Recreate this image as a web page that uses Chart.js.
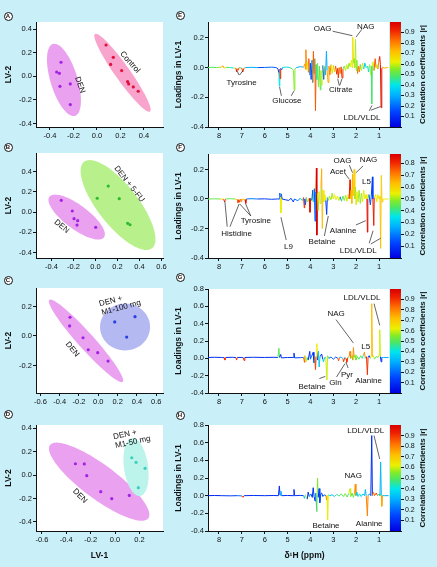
<!DOCTYPE html>
<html>
<head>
<meta charset="utf-8">
<script src="https://cdn.jsdelivr.net/npm/chart.js@4.4.1/dist/chart.umd.min.js"></script>
<style>
  html, body { margin: 0; padding: 0; }
  body { width: 437px; height: 567px; background: #c9eff8; position: relative; overflow: hidden; }
  canvas { position: absolute; }
  .tag { position: absolute; width: 7px; height: 7px; margin: -4.5px 0 0 -4.5px; border: 1px solid #111; border-radius: 50%;
         background: #fff; color: #111; font: bold 6px "Liberation Sans", Arial, sans-serif; line-height: 7px; text-align: center; }
</style>
</head>
<body>
<canvas id="cA" width="175" height="145" style="left:0;top:0"></canvas>
<canvas id="cB" width="175" height="145" style="left:0;top:130px"></canvas>
<canvas id="cC" width="175" height="140" style="left:0;top:270px"></canvas>
<canvas id="cD" width="175" height="157" style="left:0;top:410px"></canvas>
<canvas id="cE" width="272" height="145" style="left:165px;top:0"></canvas>
<canvas id="cF" width="272" height="145" style="left:165px;top:130px"></canvas>
<canvas id="cG" width="272" height="140" style="left:165px;top:270px"></canvas>
<canvas id="cH" width="272" height="157" style="left:165px;top:410px"></canvas>
<div class="tag" style="left:8px;top:16px">A</div>
<div class="tag" style="left:8px;top:147px">B</div>
<div class="tag" style="left:8px;top:280px">C</div>
<div class="tag" style="left:8px;top:414px">D</div>
<div class="tag" style="left:180px;top:15px">E</div>
<div class="tag" style="left:180px;top:147px">F</div>
<div class="tag" style="left:180px;top:277px">G</div>
<div class="tag" style="left:180px;top:415px">H</div>
<script>
// ---------- PLS-DA scores (LV-1, LV-2) ----------
const denA_lv1 = [-0.306, -0.343, -0.320, -0.315, -0.227, -0.227];
const denA_lv2 = [0.119, 0.036, 0.025, -0.085, -0.065, -0.240];
const ctlA_lv1 = [0.077, 0.139, 0.116, 0.210, 0.261, 0.270, 0.309, 0.351];
const ctlA_lv2 = [0.265, 0.161, 0.100, 0.048, -0.046, -0.065, -0.090, -0.127];

const denB_lv1 = [-0.311, -0.211, -0.195, -0.162, -0.168, 0.002];
const denB_lv2 = [0.116, 0.010, -0.066, -0.086, -0.129, -0.151];
const fuB_lv1 = [0.116, 0.016, 0.216, 0.293, 0.314];
const fuB_lv2 = [0.257, 0.136, 0.132, -0.112, -0.126];

const denC_lv1 = [-0.293, -0.297, -0.158, -0.104, -0.006, 0.101];
const denC_lv2 = [0.127, 0.068, -0.012, -0.093, -0.113, -0.170];
const m100C_lv1 = [0.170, 0.380, 0.294];
const m100C_lv2 = [0.095, 0.131, -0.007];

const denD_lv1 = [-0.325, -0.252, -0.232, -0.117, -0.027, 0.117];
const denD_lv2 = [0.096, 0.094, -0.006, -0.142, -0.202, -0.174];
const m50D_lv1 = [0.137, 0.172, 0.246, 0.191];
const m50D_lv2 = [0.147, 0.108, 0.057, -0.108];

// confidence regions: centre x, centre y, semi-axis 1 (dx, dy), semi-axis 2 (dx, dy)
const ellDenA = [-0.281, -0.031, -0.094, 0.305, 0.110, 0.033];
const ellCtlA = [0.217, 0.030, -0.234, 0.329, 0.052, 0.036];
const ellDenB = [-0.171, -0.050, 0.248, -0.201, 0.065, 0.095];
const ellFuB = [0.205, 0.069, 0.309, -0.428, 0.143, 0.123];
const ellDenC = [-0.127, -0.033, 0.380, -0.277, 0.061, 0.037];
const ellM100C = [0.277, 0.061, 0.259, 0.000, 0.000, 0.159];
const ellDenD = [-0.130, -0.057, 0.403, -0.312, 0.084, 0.116];
const ellM50D = [0.172, 0.068, 0.033, -0.247, 0.098, 0.014];

// ---------- LV-1 loadings: [ppm, loading, |r|] ----------
const loadE = [
  [8.48,0.000,0.45],[8.30,0.002,0.50],[8.10,0.000,0.45],[7.90,0.003,0.55],[7.82,0.012,0.75],[7.78,-0.004,0.65],
  [7.70,0.002,0.50],[7.50,0.000,0.45],[7.35,-0.003,0.40],[7.26,-0.004,0.60],[7.23,-0.028,0.92],[7.20,-0.008,0.85],
  [7.16,-0.018,0.85],[7.12,0.000,0.60],[7.00,-0.004,0.50],[6.96,-0.030,0.90],[6.92,-0.006,0.80],[6.85,0.000,0.45],
  [6.60,0.002,0.30],[6.30,0.000,0.20],[6.00,0.001,0.15],[5.70,0.003,0.20],[5.50,0.000,0.25],[5.42,-0.008,0.15],
  [5.38,-0.035,0.10],[5.36,-0.125,0.40],[5.34,-0.010,0.30],[5.32,-0.075,0.90],[5.30,-0.005,0.30],[5.26,-0.015,0.20],
  [5.22,0.000,0.30],[5.05,0.004,0.40],[4.90,0.000,0.35],[4.80,-0.008,0.50],[4.74,-0.020,0.55],[4.71,-0.150,0.55],
  [4.68,-0.012,0.50],[4.62,0.000,0.35],[4.45,0.006,0.30],[4.30,0.003,0.35],[4.25,0.025,0.75],[4.22,-0.010,0.40],
  [4.20,0.120,0.80],[4.17,-0.015,0.50],[4.14,0.040,0.65],[4.10,-0.030,0.20],[4.07,0.060,0.85],[4.03,-0.050,0.30],
  [4.00,0.030,0.60],[3.97,-0.080,0.15],[3.93,0.050,0.55],[3.90,-0.100,0.35],[3.87,0.110,0.85],[3.84,-0.040,0.15],
  [3.81,0.060,0.45],[3.78,-0.290,0.85],[3.75,0.020,0.55],[3.72,-0.080,0.45],[3.69,0.030,0.60],[3.65,-0.130,0.55],
  [3.61,0.010,0.50],[3.57,-0.150,0.50],[3.54,-0.020,0.45],[3.50,-0.120,0.60],[3.46,0.015,0.30],[3.42,-0.080,0.20],
  [3.38,0.010,0.50],[3.34,-0.050,0.60],[3.30,0.110,0.30],[3.27,-0.020,0.70],[3.23,-0.100,0.75],[3.19,0.010,0.40],
  [3.15,-0.050,0.80],[3.10,0.020,0.60],[3.05,-0.040,0.60],[3.00,0.015,0.40],[2.95,-0.030,0.70],[2.90,0.010,0.50],
  [2.85,-0.045,0.90],[2.81,-0.005,0.60],[2.78,-0.070,0.90],[2.74,0.000,0.50],[2.70,-0.040,0.80],[2.66,0.005,0.55],
  [2.62,-0.070,0.90],[2.58,-0.010,0.60],[2.52,0.010,0.50],[2.46,-0.020,0.55],[2.41,0.020,0.60],[2.36,-0.010,0.40],
  [2.31,0.030,0.55],[2.26,0.005,0.60],[2.21,0.050,0.62],[2.18,0.000,0.45],[2.15,0.205,0.65],[2.12,0.030,0.60],
  [2.09,0.060,0.55],[2.06,0.000,0.45],[2.03,0.190,0.58],[2.00,-0.020,0.20],[1.97,0.050,0.55],[1.94,-0.040,0.85],
  [1.90,0.010,0.40],[1.86,-0.030,0.80],[1.82,0.020,0.60],[1.77,-0.020,0.50],[1.72,0.030,0.60],[1.67,-0.010,0.20],
  [1.62,0.030,0.35],[1.56,0.000,0.30],[1.50,0.010,0.50],[1.46,-0.030,0.40],[1.41,0.020,0.35],[1.37,-0.050,0.60],
  [1.34,0.010,0.50],[1.32,-0.245,0.48],[1.30,0.010,0.45],[1.26,0.040,0.60],[1.22,-0.020,0.30],[1.17,0.060,0.85],
  [1.13,0.000,0.50],[1.09,0.020,0.60],[1.05,-0.010,0.30],[1.01,0.040,0.80],[0.97,0.075,0.92],[0.94,0.020,0.75],
  [0.91,-0.270,0.96],[0.88,-0.005,0.90],[0.84,0.000,0.80],[0.75,-0.003,0.75],[0.65,0.000,0.70],[0.58,0.000,0.65]
];
const loadF = [
  [8.48,0.000,0.40],[8.20,0.001,0.45],[7.95,0.000,0.40],[7.80,-0.002,0.60],[7.75,-0.020,0.80],[7.72,0.000,0.50],
  [7.50,0.002,0.45],[7.30,0.000,0.50],[7.20,-0.005,0.60],[7.17,-0.025,0.75],[7.14,-0.005,0.60],[7.10,-0.022,0.80],
  [7.06,0.000,0.55],[7.03,-0.018,0.70],[7.00,0.000,0.50],[6.86,-0.005,0.60],[6.83,-0.030,0.85],[6.80,0.000,0.40],
  [6.60,0.002,0.20],[6.30,0.000,0.10],[6.00,0.001,0.10],[5.70,-0.002,0.12],[5.45,0.000,0.15],[5.36,0.000,0.10],
  [5.34,0.040,0.15],[5.31,0.010,0.10],[5.29,-0.095,0.55],[5.27,0.035,0.15],[5.24,0.000,0.10],[5.10,-0.005,0.10],
  [4.95,-0.010,0.10],[4.85,0.005,0.10],[4.75,-0.020,0.12],[4.70,0.000,0.10],[4.55,-0.012,0.20],[4.45,0.005,0.25],
  [4.35,-0.010,0.40],[4.30,0.010,0.30],[4.27,-0.060,0.80],[4.25,0.000,0.30],[4.22,-0.040,0.15],[4.18,0.010,0.40],
  [4.12,-0.020,0.50],[4.05,0.005,0.40],[4.02,-0.090,0.85],[3.99,0.005,0.30],[3.94,-0.010,0.30],[3.90,0.060,0.15],
  [3.87,-0.020,0.10],[3.83,0.070,0.40],[3.80,-0.150,0.15],[3.77,0.050,0.25],[3.74,0.210,0.75],[3.72,-0.245,0.88],
  [3.70,0.040,0.60],[3.66,-0.080,0.50],[3.62,0.050,0.55],[3.58,-0.030,0.45],[3.54,0.080,0.50],[3.51,0.205,0.65],
  [3.48,-0.200,0.62],[3.45,0.060,0.55],[3.41,-0.020,0.40],[3.37,0.030,0.55],[3.33,-0.010,0.40],[3.29,-0.105,0.12],
  [3.26,0.010,0.30],[3.22,-0.010,0.40],[3.17,0.020,0.50],[3.10,-0.005,0.40],[3.05,0.040,0.50],[3.00,0.000,0.35],
  [2.95,0.030,0.55],[2.88,-0.005,0.30],[2.82,0.020,0.55],[2.76,-0.010,0.35],[2.70,0.015,0.50],[2.64,-0.015,0.20],
  [2.58,0.020,0.45],[2.52,-0.010,0.15],[2.46,0.025,0.50],[2.40,-0.015,0.15],[2.35,0.030,0.55],[2.31,0.000,0.30],
  [2.27,0.130,0.82],[2.25,0.000,0.60],[2.22,0.060,0.60],[2.19,-0.030,0.40],[2.16,0.170,0.65],[2.13,0.020,0.55],
  [2.09,0.200,0.60],[2.06,0.000,0.45],[2.03,0.080,0.50],[2.00,-0.040,0.30],[1.96,0.050,0.55],[1.92,-0.020,0.40],
  [1.87,0.060,0.50],[1.82,-0.030,0.15],[1.77,0.040,0.50],[1.72,-0.020,0.35],[1.67,0.060,0.55],[1.62,0.000,0.40],
  [1.57,0.030,0.55],[1.53,0.000,0.60],[1.51,-0.225,0.85],[1.49,0.000,0.60],[1.44,0.030,0.45],[1.38,-0.040,0.15],
  [1.34,0.020,0.30],[1.29,0.150,0.12],[1.27,0.000,0.20],[1.23,-0.180,0.82],[1.21,0.010,0.50],[1.15,0.030,0.55],
  [1.10,-0.020,0.40],[1.05,0.030,0.55],[1.00,0.000,0.40],[0.96,0.020,0.55],[0.93,-0.335,0.62],[0.90,0.160,0.60],
  [0.87,-0.020,0.60],[0.83,0.000,0.55],[0.70,0.000,0.55],[0.58,0.000,0.55]
];
const loadG = [
  [8.48,0.010,0.12],[8.20,0.012,0.10],[7.90,0.010,0.12],[7.78,0.008,0.15],[7.74,-0.020,0.90],[7.70,0.010,0.15],
  [7.40,0.012,0.10],[7.26,0.008,0.20],[7.23,-0.020,0.90],[7.20,0.010,0.15],[7.00,0.010,0.10],[6.93,0.005,0.30],
  [6.90,-0.025,0.92],[6.87,0.010,0.15],[6.50,0.012,0.10],[6.00,0.010,0.12],[5.60,0.012,0.10],[5.42,0.010,0.15],
  [5.38,0.115,0.50],[5.35,0.010,0.15],[5.30,0.045,0.10],[5.27,0.005,0.15],[5.00,0.010,0.12],[4.75,0.010,0.12],
  [4.72,0.060,0.10],[4.69,0.005,0.12],[4.45,0.008,0.15],[4.30,0.010,0.20],[4.26,-0.045,0.85],[4.24,0.030,0.15],
  [4.19,-0.040,0.60],[4.15,0.010,0.20],[4.10,-0.020,0.35],[4.03,0.080,0.10],[4.00,-0.010,0.20],[3.94,0.030,0.25],
  [3.88,0.070,0.10],[3.85,-0.050,0.35],[3.81,0.020,0.20],[3.78,-0.130,0.88],[3.75,0.020,0.30],[3.72,0.170,0.62],
  [3.69,-0.020,0.30],[3.65,0.080,0.10],[3.62,-0.100,0.35],[3.58,0.020,0.20],[3.51,0.050,0.10],[3.46,-0.010,0.20],
  [3.43,-0.040,0.35],[3.38,0.010,0.20],[3.33,0.010,0.30],[3.28,-0.250,0.60],[3.25,0.030,0.50],[3.20,0.000,0.30],
  [3.10,0.015,0.20],[3.00,-0.010,0.40],[2.90,0.015,0.15],[2.80,0.000,0.30],[2.77,-0.030,0.85],[2.73,0.010,0.20],
  [2.65,0.015,0.30],[2.58,-0.005,0.40],[2.55,-0.040,0.88],[2.50,0.010,0.30],[2.44,-0.005,0.50],[2.41,-0.045,0.90],
  [2.37,0.010,0.30],[2.31,0.020,0.55],[2.27,0.080,0.80],[2.24,0.000,0.30],[2.18,0.030,0.55],[2.15,-0.020,0.40],
  [2.12,0.125,0.78],[2.09,0.010,0.50],[2.05,0.040,0.55],[2.01,-0.020,0.40],[1.95,0.020,0.50],[1.88,-0.010,0.30],
  [1.80,0.030,0.50],[1.74,0.000,0.30],[1.68,0.040,0.45],[1.64,0.070,0.78],[1.60,0.000,0.40],[1.55,0.020,0.35],
  [1.51,-0.190,0.90],[1.48,0.010,0.30],[1.43,0.030,0.10],[1.38,0.000,0.25],[1.35,0.030,0.60],[1.32,0.630,0.72],
  [1.29,0.020,0.65],[1.25,0.030,0.60],[1.20,-0.010,0.40],[1.12,0.020,0.50],[1.04,0.010,0.40],[1.00,0.040,0.60],
  [0.97,0.330,0.60],[0.94,0.020,0.45],[0.91,-0.040,0.10],[0.88,0.010,0.30],[0.80,0.010,0.30],[0.58,0.010,0.30]
];
const loadH = [
  [8.48,0.000,0.10],[8.20,0.002,0.08],[7.90,0.000,0.10],[7.50,-0.002,0.12],[7.20,0.000,0.15],[7.00,-0.003,0.20],
  [6.95,-0.018,0.90],[6.90,0.000,0.15],[6.50,0.002,0.10],[6.00,0.000,0.08],[5.60,0.002,0.10],[5.40,0.000,0.12],
  [5.36,0.110,0.10],[5.33,0.005,0.15],[5.29,0.050,0.30],[5.26,0.000,0.15],[5.00,0.002,0.10],[4.76,0.000,0.10],
  [4.72,0.070,0.10],[4.69,0.000,0.12],[4.45,0.003,0.12],[4.30,0.000,0.20],[4.26,-0.030,0.35],[4.22,0.010,0.20],
  [4.14,-0.040,0.62],[4.10,0.040,0.10],[4.05,-0.010,0.20],[3.98,0.020,0.30],[3.92,-0.020,0.15],[3.88,0.090,0.10],
  [3.84,-0.010,0.20],[3.80,-0.060,0.10],[3.77,0.030,0.20],[3.72,-0.180,0.30],[3.69,0.200,0.55],[3.66,-0.020,0.25],
  [3.62,0.080,0.10],[3.59,-0.080,0.15],[3.55,0.020,0.20],[3.51,0.030,0.10],[3.46,-0.010,0.15],[3.40,0.010,0.20],
  [3.32,0.000,0.40],[3.29,-0.050,0.82],[3.27,0.000,0.50],[3.25,-0.275,0.62],[3.22,0.010,0.40],[3.15,0.000,0.20],
  [3.05,0.010,0.35],[2.95,-0.010,0.30],[2.85,0.015,0.45],[2.75,-0.005,0.30],[2.65,0.020,0.50],[2.55,-0.010,0.35],
  [2.48,0.025,0.55],[2.40,-0.015,0.40],[2.33,0.020,0.45],[2.27,0.080,0.60],[2.24,-0.010,0.40],[2.18,0.030,0.50],
  [2.12,-0.020,0.45],[2.07,0.030,0.55],[2.04,0.130,0.78],[2.01,0.000,0.40],[1.97,0.040,0.35],[1.92,-0.010,0.30],
  [1.85,0.020,0.40],[1.78,-0.010,0.30],[1.70,0.020,0.35],[1.63,0.000,0.30],[1.60,0.070,0.32],[1.56,0.000,0.30],
  [1.51,-0.230,0.80],[1.48,0.000,0.30],[1.42,0.020,0.25],[1.36,0.000,0.20],[1.32,0.680,0.10],[1.29,0.000,0.20],
  [1.24,0.040,0.80],[1.20,0.000,0.50],[1.12,0.030,0.88],[1.07,0.000,0.40],[1.00,0.020,0.50],[0.96,0.000,0.30],
  [0.93,0.380,0.32],[0.90,0.000,0.50],[0.88,-0.120,0.75],[0.85,0.000,0.35],[0.75,0.000,0.30],[0.58,0.000,0.30]
];

// ---------- tick labels ----------
const ppmTicks = [8, 7, 6, 5, 4, 3, 2, 1];
const lvTicks4 = [-0.4, -0.2, 0, 0.2, 0.4];
const lvTicksB = [-0.4, -0.2, 0, 0.2, 0.4, 0.6];
const lvTicks6 = [-0.6, -0.4, -0.2, 0, 0.2, 0.4, 0.6];
const lvTicksD = [-0.6, -0.4, -0.2, 0, 0.2];
const lvTicksC = [-0.2, 0, 0.2];
const loadTicksSmall = [-0.4, -0.2, 0, 0.2];
const loadTicksLarge = [-0.4, -0.2, 0, 0.2, 0.4, 0.6, 0.8];
const rTicks9 = [0.1, 0.2, 0.3, 0.4, 0.5, 0.6, 0.7, 0.8, 0.9];
const rTicks8 = [0.1, 0.2, 0.3, 0.4, 0.5, 0.6, 0.7, 0.8];

// ---------- annotations of the loadings (ppm, loading) ----------
const notesE = [['Tyrosine', 7.01, -0.102], ['Glucose', 5.03, -0.225], ['Citrate', 2.67, -0.151],
  ['OAG', 3.47, 0.258], ['NAG', 1.58, 0.275], ['LDL/VLDL', 1.75, -0.335]];
const leadersE = [[7.12, -0.05, 7.22, -0.02], [7.10, -0.05, 6.95, -0.02], [5.27, -0.19, 5.35, -0.13],
  [4.84, -0.19, 4.71, -0.155], [2.74, -0.12, 2.81, -0.075], [2.72, -0.12, 2.62, -0.075],
  [3.03, 0.245, 2.17, 0.215], [1.75, 0.258, 2.01, 0.205], [1.43, -0.291, 1.31, -0.255], [1.36, -0.287, 0.93, -0.262]];
const notesF = [['Histidine', 7.23, -0.237], ['Tyrosine', 6.39, -0.147], ['L9', 4.96, -0.323],
  ['Betaine', 3.49, -0.289], ['Alanine', 2.57, -0.215], ['LDL/VLDL', 1.91, -0.35], ['Acet', 2.80, 0.185],
  ['OAG', 2.60, 0.26], ['NAG', 1.46, 0.264], ['L5', 1.55, 0.117]];
const leadersF = [[7.64, -0.188, 7.74, -0.018], [7.52, -0.188, 7.12, -0.034], [6.61, -0.115, 7.09, -0.034],
  [6.61, -0.115, 6.83, -0.034], [5.06, -0.278, 5.29, -0.124], [3.39, -0.251, 3.22, -0.115],
  [2.01, -0.176, 1.58, -0.147], [1.43, -0.30, 1.26, -0.215], [1.36, -0.305, 0.93, -0.266],
  [2.48, 0.17, 2.30, 0.134], [2.30, 0.23, 2.16, 0.178], [1.70, 0.224, 2.01, 0.178]];
const notesG = [['LDL/VLDL', 1.75, 0.70], ['NAG', 2.88, 0.515], ['L5', 1.58, 0.138], ['Betaine', 3.93, -0.331],
  ['Gln', 2.91, -0.285], ['Pyr', 2.40, -0.185], ['Alanine', 1.46, -0.262]];
const leadersG = [[1.22, 0.631, 0.97, 0.381], [2.88, 0.446, 2.12, 0.176], [3.61, -0.234, 3.35, -0.208],
  [2.86, -0.216, 2.49, -0.061], [2.35, -0.112, 2.45, -0.043]];
const notesH = [['LDL/VLDL', 1.58, 0.74], ['NAG', 2.13, 0.226], ['Betaine', 3.32, -0.34], ['Alanine', 1.43, -0.317]];
const leadersH = [[1.22, 0.68, 0.97, 0.415]];

// ---------- shared look ----------
const FAMILY = '"Liberation Sans", Arial, sans-serif';
Chart.defaults.font.family = FAMILY;
Chart.defaults.color = '#111';
Chart.defaults.animation = false;

const jetStops = [
  [0.00, [0, 0, 225]], [0.15, [0, 70, 255]], [0.30, [0, 175, 255]], [0.40, [0, 230, 235]],
  [0.48, [70, 230, 110]], [0.55, [130, 235, 40]], [0.62, [235, 240, 0]], [0.72, [255, 190, 0]],
  [0.82, [255, 115, 0]], [0.92, [240, 35, 0]], [1.00, [215, 0, 0]]
];
function jet(v) {
  v = Math.max(0, Math.min(1, v));
  for (let i = 1; i < jetStops.length; i++) {
    const [p0, c0] = jetStops[i - 1], [p1, c1] = jetStops[i];
    if (v <= p1) {
      const t = (v - p0) / (p1 - p0);
      return 'rgb(' + c0.map((c, k) => Math.round(c + (c1[k] - c) * t)).join(',') + ')';
    }
  }
}

function axis(o) {
  return {
    type: 'linear', min: o.min, max: o.max, reverse: !!o.reverse,
    afterBuildTicks: s => { s.ticks = o.ticks.map(v => ({ value: v })); },
    afterFit: o.fit,
    ticks: { callback: o.fmt, font: { size: 7.5 }, color: '#111', padding: 1, autoSkip: false, maxRotation: 0 },
    grid: { drawOnChartArea: false, tickLength: 3, color: '#111', tickColor: '#111' },
    border: { display: true, color: '#111', width: 1 },
    title: o.title
      ? { display: true, text: o.title, font: { size: 8.5, weight: 'bold' }, color: '#111', padding: o.titlePad }
      : { display: false }
  };
}

const whiteArea = cut => ({
  id: 'whiteArea',
  beforeDraw(chart) {
    const a = chart.chartArea, ctx = chart.ctx;
    ctx.save();
    ctx.fillStyle = '#fff';
    ctx.fillRect(a.left, a.top, a.width - cut, a.height);
    ctx.restore();
  }
});

// ---------- score plots ----------
function drawScores(id, p) {
  const regions = {
    id: 'regions',
    beforeDatasetsDraw(chart) {
      const { ctx, chartArea: a, scales: { x, y } } = chart;
      ctx.save();
      ctx.beginPath(); ctx.rect(a.left, a.top, a.width, a.height); ctx.clip();
      p.groups.forEach(g => {
        const [cx, cy, ax, ay, bx, by] = g.ell;
        ctx.beginPath();
        for (let k = 0; k <= 90; k++) {
          const t = k / 90 * 2 * Math.PI;
          const px = x.getPixelForValue(cx + ax * Math.cos(t) + bx * Math.sin(t));
          const py = y.getPixelForValue(cy + ay * Math.cos(t) + by * Math.sin(t));
          if (k) ctx.lineTo(px, py); else ctx.moveTo(px, py);
        }
        ctx.closePath();
        ctx.fillStyle = g.fill;
        ctx.fill();
      });
      ctx.restore();
    },
    afterDatasetsDraw(chart) {
      const { ctx, scales: { x, y } } = chart;
      p.labels.forEach(l => {
        ctx.save();
        ctx.translate(x.getPixelForValue(l.x), y.getPixelForValue(l.y));
        ctx.rotate(l.rot * Math.PI / 180);
        ctx.font = '8px ' + FAMILY;
        ctx.fillStyle = '#111';
        ctx.textAlign = l.align || 'center';
        ctx.textBaseline = 'middle';
        l.text.forEach((s, i) => ctx.fillText(s, 0, i * 9));
        ctx.restore();
      });
    }
  };
  new Chart(document.getElementById(id), {
    type: 'scatter',
    data: {
      datasets: p.groups.map(g => ({
        data: g.lv1.map((v, i) => ({ x: v, y: g.lv2[i] })),
        backgroundColor: g.dot, borderWidth: 0, pointRadius: 1.6
      }))
    },
    options: {
      responsive: false,
      layout: { padding: { top: p.padTop, right: 12 } },
      plugins: { legend: { display: false }, tooltip: { enabled: false } },
      scales: {
        x: axis({ min: p.x[0], max: p.x[1], ticks: p.xTicks, fmt: v => v.toFixed(1),
          fit: s => { s.height = p.xH; }, title: p.xTitle, titlePad: { top: 0, bottom: 6 } }),
        y: axis({ min: p.y[0], max: p.y[1], ticks: p.yTicks, fmt: v => v.toFixed(1),
          fit: s => { s.width = 36; }, title: 'LV-2', titlePad: { top: 4 } })
      }
    },
    plugins: [whiteArea(0), regions]
  });
}

drawScores('cA', {
  padTop: 22, xH: 18, x: [-0.519, 0.562], y: [-0.43, 0.46], xTicks: lvTicks4, yTicks: lvTicks4,
  groups: [
    { lv1: denA_lv1, lv2: denA_lv2, ell: ellDenA, fill: '#eaa2f0', dot: '#a223e3' },
    { lv1: ctlA_lv1, lv2: ctlA_lv2, ell: ellCtlA, fill: '#f8a4cc', dot: '#e0103a' }
  ],
  labels: [
    { text: ['DEN'], x: -0.145, y: -0.074, rot: 70 },
    { text: ['Control'], x: 0.281, y: 0.119, rot: 48 }
  ]
});
drawScores('cB', {
  padTop: 23, xH: 17, x: [-0.541, 0.614], y: [-0.455, 0.584], xTicks: lvTicksB, yTicks: lvTicks4,
  groups: [
    { lv1: denB_lv1, lv2: denB_lv2, ell: ellDenB, fill: '#eaa2f0', dot: '#a223e3' },
    { lv1: fuB_lv1, lv2: fuB_lv2, ell: ellFuB, fill: '#b8f08c', dot: '#2dbb2d' }
  ],
  labels: [
    { text: ['DEN'], x: -0.307, y: -0.142, rot: 40 },
    { text: ['DEN + 5-FU'], x: 0.307, y: 0.277, rot: 52 }
  ]
});
drawScores('cC', {
  padTop: 18, xH: 17, x: [-0.645, 0.670], y: [-0.386, 0.325], xTicks: lvTicks6, yTicks: lvTicksC,
  groups: [
    { lv1: denC_lv1, lv2: denC_lv2, ell: ellDenC, fill: '#eaa2f0', dot: '#a223e3' },
    { lv1: m100C_lv1, lv2: m100C_lv2, ell: ellM100C, fill: '#b5b9f2', dot: '#2a3de0' }
  ],
  labels: [
    { text: ['DEN'], x: -0.269, y: -0.090, rot: 50 },
    { text: ['DEN +', 'M1-100 mg'], x: 0.010, y: 0.215, rot: -15, align: 'left' }
  ]
});
drawScores('cD', {
  padTop: 15, xH: 36, x: [-0.648, 0.393], y: [-0.477, 0.426], xTicks: lvTicksD, yTicks: lvTicks4, xTitle: 'LV-1',
  groups: [
    { lv1: denD_lv1, lv2: denD_lv2, ell: ellDenD, fill: '#eaa2f0', dot: '#a223e3' },
    { lv1: m50D_lv1, lv2: m50D_lv2, ell: ellM50D, fill: '#bcf4ec', dot: '#3ccfbf' }
  ],
  labels: [
    { text: ['DEN'], x: -0.287, y: -0.179, rot: 45 },
    { text: ['DEN +', 'M1-50 mg'], x: -0.014, y: 0.323, rot: -12, align: 'left' }
  ]
});

// ---------- loading plots ----------
function drawLoadings(id, p) {
  const spec = p.spec;
  const extras = {
    id: 'extras',
    afterDraw(chart) {
      const { ctx, chartArea: a, scales: { x, y, cb } } = chart;
      ctx.save();
      // colour bar
      const g = ctx.createLinearGradient(0, a.bottom, 0, a.top);
      jetStops.forEach(([pos, c]) => g.addColorStop(pos, 'rgb(' + c.join(',') + ')'));
      ctx.fillStyle = g;
      ctx.fillRect(a.right - 11, a.top, 11, a.height);
      // colour bar title
      ctx.save();
      ctx.translate(cb.left + 22, (a.top + a.bottom) / 2);
      ctx.rotate(-Math.PI / 2);
      ctx.font = 'bold 8px ' + FAMILY;
      ctx.fillStyle = '#111';
      ctx.textAlign = 'center';
      ctx.textBaseline = 'middle';
      ctx.fillText('Correlation coefficients |r|', 0, 0);
      ctx.restore();
      // leader lines and metabolite names
      ctx.strokeStyle = '#222';
      ctx.lineWidth = 0.7;
      p.leaders.forEach(([x1, y1, x2, y2]) => {
        ctx.beginPath();
        ctx.moveTo(x.getPixelForValue(x1), y.getPixelForValue(y1));
        ctx.lineTo(x.getPixelForValue(x2), y.getPixelForValue(y2));
        ctx.stroke();
      });
      ctx.font = '8px ' + FAMILY;
      ctx.fillStyle = '#111';
      ctx.textAlign = 'center';
      ctx.textBaseline = 'middle';
      p.notes.forEach(([t, px, py]) => ctx.fillText(t, x.getPixelForValue(px), y.getPixelForValue(py)));
      ctx.restore();
    }
  };
  new Chart(document.getElementById(id), {
    type: 'line',
    data: {
      datasets: [{
        data: spec.map(s => ({ x: s[0], y: s[1] })),
        borderWidth: 1, pointRadius: 0, tension: 0, borderColor: '#0000e1',
        segment: {
          borderColor: c => {
            const a = spec[c.p0DataIndex], b = spec[c.p1DataIndex];
            const r = Math.abs(b[1]) >= Math.abs(a[1]) ? b[2] : a[2];
            return jet(r / p.cbMax);
          }
        }
      }]
    },
    options: {
      responsive: false,
      layout: { padding: { top: p.padTop, right: 8 } },
      plugins: { legend: { display: false }, tooltip: { enabled: false } },
      scales: {
        x: axis({ min: 0.04, max: 8.48, reverse: true, ticks: ppmTicks, fmt: v => String(v),
          fit: s => { s.height = p.xH; }, title: p.xTitle, titlePad: { top: 0, bottom: 6 } }),
        y: axis({ min: -0.4, max: p.yMax, ticks: p.yTicks, fmt: v => v.toFixed(1),
          fit: s => { s.width = 43; }, title: 'Loadings in LV-1', titlePad: { top: 9 } }),
        cb: {
          type: 'linear', position: 'right', min: 0, max: p.cbMax,
          afterBuildTicks: s => { s.ticks = p.cbTicks.map(v => ({ value: v })); },
          afterFit: s => { s.width = 28; },
          ticks: { callback: v => v.toFixed(1), font: { size: 7 }, color: '#111', padding: 1 },
          grid: { drawOnChartArea: false, tickLength: 3, color: '#111', tickColor: '#111' },
          border: { display: false }
        }
      }
    },
    plugins: [whiteArea(12), extras]
  });
}

drawLoadings('cE', { spec: loadE, padTop: 22, xH: 18, yMax: 0.307, yTicks: loadTicksSmall,
  cbMax: 1, cbTicks: rTicks9, notes: notesE, leaders: leadersE });
drawLoadings('cF', { spec: loadF, padTop: 24, xH: 17, yMax: 0.305, yTicks: loadTicksSmall,
  cbMax: 0.88, cbTicks: rTicks8, notes: notesF, leaders: leadersF });
drawLoadings('cG', { spec: loadG, padTop: 19, xH: 17, yMax: 0.8, yTicks: loadTicksLarge,
  cbMax: 1, cbTicks: rTicks9, notes: notesG, leaders: leadersG });
drawLoadings('cH', { spec: loadH, padTop: 15, xH: 36, yMax: 0.8, yTicks: loadTicksLarge,
  cbMax: 1, cbTicks: rTicks9, notes: notesH, leaders: leadersH, xTitle: 'δ¹H (ppm)' });
</script>
</body>
</html>
